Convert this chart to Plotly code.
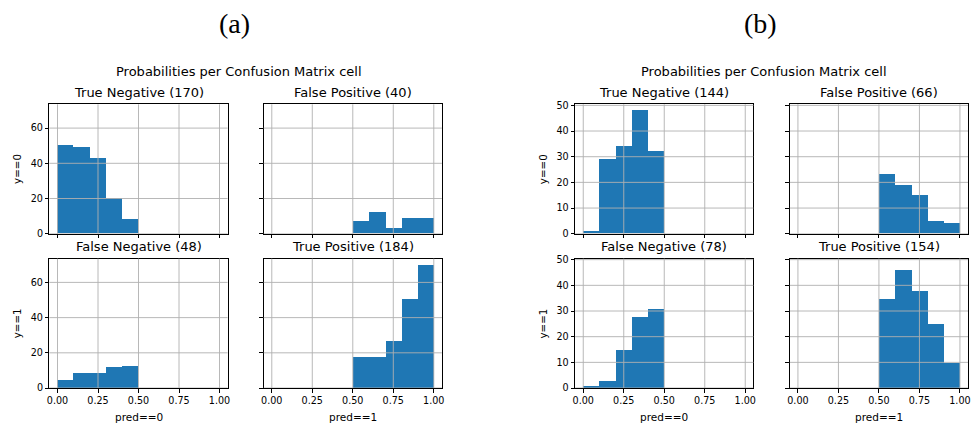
import plotly.graph_objects as go

W, H = 974, 428

# Histogram bin edges (probability of the positive class)
EDGES_PRED0 = [0.0, 0.1, 0.2, 0.3, 0.4, 0.5]
EDGES_PRED1 = [0.5, 0.6, 0.7, 0.8, 0.9, 1.0]

# Panel (a): counts per bin for each confusion-matrix cell
a_true_neg = [50, 49, 43, 20, 8]
a_false_pos = [7, 12, 3, 9, 9]
a_false_neg = [5, 9, 9, 12, 13]
a_true_pos = [18, 18, 27, 51, 70]

# Panel (b)
b_true_neg = [1, 29, 34, 48, 32]
b_false_pos = [23, 19, 15, 5, 4]
b_false_neg = [1, 3, 15, 28, 31]
b_true_pos = [35, 46, 38, 25, 10]

X_TICKS = [0.0, 0.25, 0.5, 0.75, 1.0]
A_Y_TICKS = [0, 20, 40, 60]
B_Y_TICKS = [0, 10, 20, 30, 40, 50]

SUPTITLE = "Probabilities per Confusion Matrix cell"
BAR_COLOR = "#1f77b4"
GRID_COLOR = "#b0b0b0"
FONT = "DejaVu Sans"

panels = [
    {
        "tag": "(a)",
        "cells": [
            ("True Negative", a_true_neg, EDGES_PRED0),
            ("False Positive", a_false_pos, EDGES_PRED1),
            ("False Negative", a_false_neg, EDGES_PRED0),
            ("True Positive", a_true_pos, EDGES_PRED1),
        ],
        "yticks": A_Y_TICKS,
        "lefts": [46.7, 262.3],
        "tag_x": 233,
        "sup_x": 237,
        "ylabel_x": 14,
    },
    {
        "tag": "(b)",
        "cells": [
            ("True Negative", b_true_neg, EDGES_PRED0),
            ("False Positive", b_false_pos, EDGES_PRED1),
            ("False Negative", b_false_neg, EDGES_PRED0),
            ("True Positive", b_true_pos, EDGES_PRED1),
        ],
        "yticks": B_Y_TICKS,
        "lefts": [575.7, 791.7],
        "tag_x": 762,
        "sup_x": 766,
        "ylabel_x": 543.5,
    },
]

AX_W = 179.3
ROW_TOPS = [101.7, 259.7]
AX_H = 132.5


def px_x(v):
    return v / W


def px_y(v):
    return 1 - v / H


fig = go.Figure()
annotations = []
shapes = []
axis_n = 0

for panel in panels:
    ymax = max(max(c[1]) for c in panel["cells"]) * 1.05
    for idx, (name, counts, edges) in enumerate(panel["cells"]):
        axis_n += 1
        row, col = divmod(idx, 2)
        xa = "x" if axis_n == 1 else f"x{axis_n}"
        ya = "y" if axis_n == 1 else f"y{axis_n}"
        left = panel["lefts"][col]
        top = ROW_TOPS[row]
        centers = [(edges[i] + edges[i + 1]) / 2 for i in range(len(counts))]
        widths = [edges[i + 1] - edges[i] for i in range(len(counts))]
        fig.add_trace(go.Bar(
            x=centers, y=counts, width=widths,
            marker=dict(color=BAR_COLOR, line=dict(width=0)),
            xaxis=xa, yaxis=ya, showlegend=False, hoverinfo="x+y",
        ))
        common = dict(
            showline=True, mirror=True, linecolor="black", linewidth=1,
            ticks="outside", ticklen=3.5, tickwidth=1, tickcolor="black",
            showgrid=False, zeroline=False,
            tickfont=dict(family=FONT, size=9.6, color="black"),
        )
        fig.layout[xa.replace("x", "xaxis")] = dict(
            domain=[px_x(left), px_x(left + AX_W)],
            range=[-0.05, 1.05], anchor=ya,
            tickvals=X_TICKS, tickformat=".2f",
            showticklabels=(row == 1), **common,
        )
        fig.layout[ya.replace("y", "yaxis")] = dict(
            domain=[px_y(top + AX_H), px_y(top)],
            range=[0, ymax], anchor=xa,
            tickvals=panel["yticks"],
            showticklabels=(col == 0), **common,
        )
        # grid drawn over the bars
        for t in X_TICKS:
            shapes.append(dict(type="line", xref=xa, yref=f"{ya} domain",
                               x0=t, x1=t, y0=0, y1=1, layer="above",
                               line=dict(color=GRID_COLOR, width=0.9)))
        for t in panel["yticks"]:
            shapes.append(dict(type="line", xref=f"{xa} domain", yref=ya,
                               x0=0, x1=1, y0=t, y1=t, layer="above",
                               line=dict(color=GRID_COLOR, width=0.9)))
        # cell title
        annotations.append(dict(
            text=f"{name} ({sum(counts)})", xref="paper", yref="paper",
            x=px_x(left + AX_W / 2), y=px_y(top - 12.5),
            xanchor="center", yanchor="middle", showarrow=False,
            font=dict(family=FONT, size=13, color="black"),
        ))
        if col == 0:
            annotations.append(dict(
                text="y==0" if row == 0 else "y==1", textangle=-90,
                xref="paper", yref="paper",
                x=px_x(panel["ylabel_x"]), y=px_y(top + AX_H / 2),
                xanchor="center", yanchor="middle", showarrow=False,
                font=dict(family=FONT, size=10.3, color="black"),
            ))
        if row == 1:
            annotations.append(dict(
                text="pred==0" if col == 0 else "pred==1",
                xref="paper", yref="paper",
                x=px_x(left + AX_W / 2), y=px_y(421.5),
                xanchor="center", yanchor="middle", showarrow=False,
                font=dict(family=FONT, size=10.5, color="black"),
            ))
    annotations.append(dict(
        text=SUPTITLE, xref="paper", yref="paper",
        x=px_x(panel["sup_x"]), y=px_y(68),
        xanchor="center", yanchor="middle", showarrow=False,
        font=dict(family=FONT, size=13, color="black"),
    ))
    annotations.append(dict(
        text=panel["tag"], xref="paper", yref="paper",
        x=px_x(panel["tag_x"]), y=px_y(19),
        xanchor="center", yanchor="middle", showarrow=False,
        font=dict(family="Liberation Serif", size=28, color="black"),
    ))

fig.update_layout(
    width=W, height=H, margin=dict(l=0, r=0, t=0, b=0),
    paper_bgcolor="white", plot_bgcolor="white",
    bargap=0, annotations=annotations, shapes=shapes,
)

fig.write_html("out.html")
